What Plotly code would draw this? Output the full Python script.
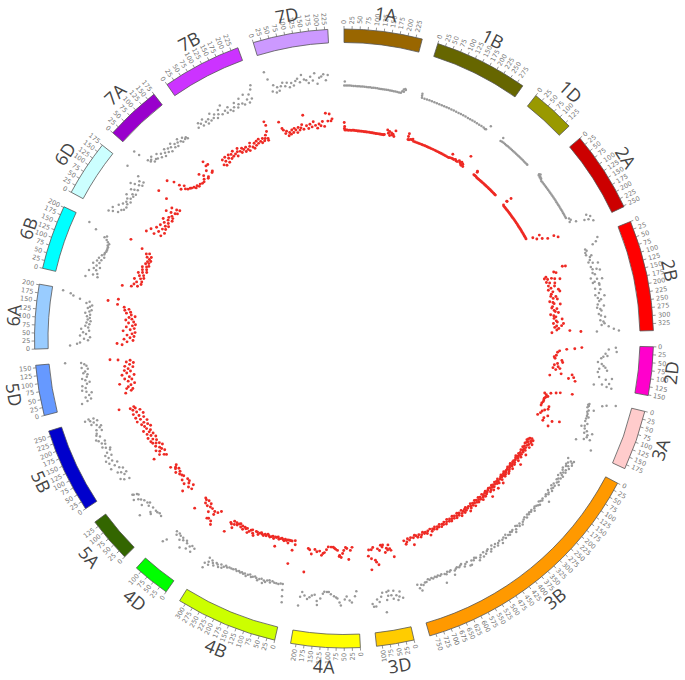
import math
import plotly.graph_objects as go

CHROMS = ["1A","1B","1D","2A","2B","2D","3A","3B","3D","4A","4B","4D","5A","5B","5D","6A","6B","6D","7A","7B","7D"]
LENGTHS = [245,295,140,253,347,152,188,770,118,217,320,118,142,267,158,202,202,175,175,248,235]
COLORS = ["#996600","#666600","#999900","#cc0000","#ff0000","#ff00cc","#ffcccc","#ff9900","#ffcc00","#ffff00",
          "#ccff00","#00ff00","#336600","#0000cc","#6699ff","#99ccff","#00ffff","#ccffff","#9900cc","#cc33ff","#cc99ff"]

# (position in Mb, track value)
G_1A=[(3,5),(1,1),(8,1),(15,1),(22,1),(29,.8),(36,.8),(43,.8),(50,.6),(57,.6),(64,.6),(71,.6),(78,.5),(85,.5),(92,.5),(99,.5),(106,.4),(113,.4),(120,.4),(127,.4),(134,.3),(141,.3),(148,.3),(155,.3),(162,.3),(169,.3),(176,.3),(183,.3),(190,.3),(197,.3),(204,.2),(211,.2),(218,.2),(222,2),(226,4),(231,5),(234,4),(228,2)]
R_1A=[(1,9),(3,5),(2,3),(4,1.5),(9,1.5),(15,1.5),(21,1.2),(27,1.5),(33,1.2),(39,1.5),(45,1.5),(51,1.2),(57,1.2),(63,1),(69,1),(75,1),(81,1),(87,1),(93,.8),(99,.8),(105,.8),(111,.8),(117,.8),(123,.6),(129,.6),(135,.6),(141,.6),(147,.5),(153,.5),(159,.5),(165,.5),(171,.5),(177,.5),(183,.5),(187,1),(198,6),(204,3),(212,1),(218,4),(226,3),(235,7),(232,1),(208,5),(222,2)]
G_1B=[(2,5),(3,3),(5,1),(15,1),(25,1),(35,1),(45,1),(55,1),(65,1),(75,1),(85,1),(95,1),(105,1),(115,1),(125,1),(135,1),(145,1),(155,1),(165,1),(175,1),(185,1),(195,1),(205,1),(215,1),(225,1),(235,1),(245,1),(255,1),(265,1),(272,.5),(276,1),(285,6)]
R_1B=[(1,8),(1,5),(3,2),(8,2),(14,3),(20,3),(24,4),(30,2),(38,2),(46,2),(54,2),(62,2),(70,2),(78,2),(86,2),(94,2),(102,2),(110,2),(118,2),(126,2),(134,2),(142,2),(150,2),(158,2),(166,2),(174,2),(182,2),(190,2),(198,2),(206,2),(212,2.5),(216,7),(220,3),(226,3),(232,3),(238,4),(244,3),(250,3),(256,5),(262,4),(268,3),(274,2),(270,5),(278,4),(284,2),(288,15)]
G_1D=[(3,4),(2,0),(8,.5),(15,.5),(22,.5),(29,.5),(36,.5),(43,.5),(50,.5),(57,.5),(64,.5),(71,.5),(78,.5),(85,.5),(92,.5),(99,.5),(106,.5),(113,.5),(120,.5),(127,.5),(134,.5),(138,.5)]
R_1D=[(5,7),(7,6),(2,2),(8,2),(14,2),(20,1.5),(26,1.5),(32,1.5),(38,1.5),(44,1.5),(50,1.5),(56,1.5),(62,1.5),(68,1.5),(74,1.5),(80,1.5),(86,1.5),(92,1.5),(98,1.5),(104,1.5),(110,1.5),(116,1.5),(122,1.5),(128,1.5),(134,1.5),(138,1.5)]
G_2A=[(4,3),(8,4),(7,2),(13,2.5),(15,1.5),(20,2),(24,1),(30,.5),(37,.5),(44,.5),(51,.5),(58,.5),(65,.5),(72,.5),(79,.5),(86,.5),(93,.5),(100,.5),(107,.5),(114,.5),(121,.5),(128,.5),(135,.5),(142,.5),(149,.5),(156,.5),(163,.5),(170,.5),(177,.5),(184,.5),(191,.5),(198,.5),(205,3),(212,4),(218,2),(226,8),(222,20),(240,20),(236,16),(232,23),(250,24)]
R_2A=[(3,6),(6,11),(5,6),(7,1),(13,.5),(20,.5),(27,.5),(34,.5),(41,.5),(48,.5),(55,.5),(62,.5),(69,.5),(76,.5),(83,.5),(90,.5),(97,.5),(104,.5),(111,.5),(118,.5),(125,.5),(132,.5),(139,.5),(146,.5),(153,.5),(160,.5),(167,.5),(174,.5),(181,.5),(188,.5),(195,.5),(205,7),(208,14),(218,10),(227,15),(237,20),(238,26.7),(250,30)]
G_2B=[(6,21),(18,18),(24,14),(39,6),(33,5),(45,4),(54,4),(60,9),(65,7),(75,6),(83,4),(93,13),(88,8),(101,5),(111,6),(113,10),(119,13),(125,5),(131,7),(143,2),(149,8),(152,13),(158,5),(161,3),(167,9),(173,9),(184,4),(190,9),(202,7),(208,3),(220,5),(226,8),(214,12),(232,6),(244,4),(250,10),(256,3),(262,6),(268,7),(280,4),(286,6),(292,10),(303,5),(309,8),(315,9),(321,6),(327,13),(337,18),(344,23),(345,1)]
R_2B=[(65,23),(68,26),(77,13),(83,15),(89,4),(95,2),(101,5),(101,9),(107,12),(113,17),(113,3),(119,6),(125,11),(131,4),(137,10),(143,6),(149,3),(155,13),(161,7),(164,14),(170,5),(179,4),(184,9),(190,6),(196,10),(202,2),(208,5),(214,6),(220,12),(226,4),(232,3),(238,8),(244,5),(250,6),(256,9),(262,1),(268,4),(274,6),(280,4),(286,12),(292,6),(298,7),(303,3),(306,13),(315,6),(315,11),(321,4),(327,8),(333,6),(345,1),(338,19),(343,30)]
G_2D=[(7,20),(14,13),(22,21),(38,12),(42,8),(30,10),(48,6),(63,3),(69,7),(81,11),(87,5),(75,9),(91,13),(100,4),(118,6),(118,19),(124,13),(137,17),(143,10),(149,2),(149,15),(152,20)]
R_2D=[(11,31),(17,24),(21,16),(29,9),(36,7),(50,6),(57,4),(64,5),(71,12),(86,8),(79,13),(93,5),(107,4),(107,11),(100,9),(129,13),(114,7),(143,2),(126,24),(143,21),(150,28),(136,26)]
G_3A=[(5,28),(12,19),(18,15),(22,2),(26,1),(30,2),(36,1),(42,8),(46,3),(52,2),(60,3),(68,3),(78,3),(72,5),(88,3),(96,6),(105,4),(110,1),(125,14),(135,10),(130,6),(148,14),(152,8),(165,1),(180,19),(142,10),(122,8),(115,5)]
R_3A=[(2,28),(8,16),(13,12),(20,7),(26,1),(32,3),(38,5),(44,3),(50,2),(58,2),(66,2),(74,1),(84,1),(80,9),(92,9),(100,6),(108,4),(118,3),(120,11),(126,24),(130,1),(134,8),(136,17),(160,15),(146,8)]
G_3B=[(3,2),(6,9),(10,6),(14,8),(18,4),(22,9),(26,3),(30,6),(34,4),(38,8),(44,2),(48,6),(52,3),(56,7),(60,5),(66,3),(70,5),(74,7),(78,2),(84,6),(88,4),(94,3),(98,6),(104,5),(108,8),(114,3),(118,5),(124,2),(128,5),(134,4),(140,6),(146,2),(152,4),(158,5),(164,3),(170,4),(178,10),(184,3),(190,4),(196,3),(202,2),(208,5),(214,4),(220,3),(226,2),(232,3),(238,5),(244,2),(250,3),(256,2),(262,3),(268,2),(276,4),(282,2),(290,3),(298,4),(306,6),(312,3),(318,5),(324,3),(330,2),(336,5),(342,7),(348,3),(354,4),(360,3),(366,5),(372,4),(380,2),(386,5),(392,3),(400,4),(406,7),(412,3),(420,4),(426,6),(432,3),(440,5),(446,2),(454,5),(460,7),(466,3),(472,4),(480,6),(486,3),(492,7),(500,4),(506,6),(512,8),(520,4),(526,3),(532,5),(540,4),(546,8),(552,8),(558,3),(566,4),(572,6),(580,2),(586,3),(592,4),(600,3),(606,4),(612,5),(618,9),(626,3),(632,4),(640,3),(646,5),(652,4),(657,13),(664,3),(670,4),(678,3),(684,4),(690,3),(698,4),(704,3),(712,4),(718,3),(726,5),(732,5),(740,7),(748,6),(750,12),(756,9),(762,5)]
R_3B=[(3,6),(6,4),(9,8),(12,3),(15,6),(18,2),(21,7),(24,4),(27,9),(30,3),(33,6),(36,2),(40,5),(44,8),(48,3),(52,5),(56,2),(60,4),(64,6),(68,4),(72,2),(76,5),(80,9),(84,3),(88,5),(92,2),(96,4),(100,6),(104,3),(108,1),(112,4),(116,2),(120,6),(124,3),(128,10),(132,2),(136,4),(140,2),(144,5),(148,3),(152,1),(156,4),(160,2),(164,6),(168,3),(172,1),(176,4),(180,2),(184,5),(188,2),(192,6),(196,3),(200,1),(204,4),(208,2),(212,5),(216,3),(220,1),(224,3),(228,2),(232,5),(236,3),(240,8),(244,1),(248,3),(252,5),(256,2),(260,4),(264,1),(268,3),(272,8),(276,2),(280,4),(284,1),(288,3),(292,6),(296,2),(300,4),(304,1),(308,5),(312,2),(316,10),(320,3),(324,1),(328,4),(332,2),(338,5),(342,3),(346,1),(350,4),(356,6),(360,2),(364,4),(368,1),(372,3),(378,5),(382,2),(386,4),(390,1),(396,3),(400,6),(404,2),(408,4),(414,1),(418,3),(422,5),(428,2),(432,7),(436,3),(442,1),(446,4),(450,2),(456,5),(460,3),(466,1),(470,4),(476,6),(480,2),(486,4),(490,1),(496,3),(500,5),(506,2),(512,4),(516,1),(522,3),(528,5),(532,2),(538,4),(544,1),(550,3),(556,5),(562,2),(568,4),(574,3),(580,5),(586,2),(592,4),(598,3),(604,5),(610,2),(616,4),(622,3),(628,5),(634,2),(640,8),(646,3),(652,5),(658,3),(664,4),(670,2),(678,4),(684,6),(690,3),(698,5),(704,3),(710,2),(718,4),(724,11),(730,3),(738,5),(745,3),(752,6),(758,8),(764,4)]
G_3D=[(4,14),(12,7),(16,12),(22,15),(26,10),(34,5),(38,13),(44,9),(52,4),(56,9),(62,13),(60,5),(70,25),(76,5),(82,9),(90,14),(98,11),(104,18),(112,18),(116,15)]
R_3D=[(2,17),(10,10),(14,8),(18,4),(24,9),(28,7),(36,11),(42,3),(46,5),(52,3),(60,8),(68,6),(72,22),(80,19),(84,17),(88,4),(96,6),(100,15),(104,26),(108,6),(112,12)]
G_4A=[(4,1),(10,6),(22,12),(30,10),(41,6),(48,9),(62,15),(67,12),(75,8),(80,7),(88,6),(100,4),(108,2),(115,2),(125,2),(130,4),(138,9),(148,16),(150,12),(160,6),(170,7),(178,9),(186,11),(197,8),(207,5),(212,10),(214,19)]
R_4A=[(14,2),(22,5),(30,14),(38,3),(44,2),(52,5),(57,8),(63,12),(70,10),(72,11),(80,5),(88,4),(94,3),(100,2),(110,2),(123,2),(130,5),(138,8),(144,9),(150,11),(160,7),(172,8),(182,6),(195,11),(205,7),(212,6),(214,30)]
G_4B=[(6,19),(10,13),(14,7),(18,1),(26,1),(34,2),(42,2),(50,2),(58,1),(66,3),(70,1),(78,2),(84,4),(90,3),(94,6),(100,2),(108,3),(114,5),(120,3),(126,2),(134,3),(140,4),(146,2),(154,3),(160,5),(166,3),(172,4),(178,3),(184,4),(190,3),(198,4),(204,3),(212,4),(220,4),(228,4),(236,5),(242,4),(248,6),(254,8),(260,5),(266,9),(272,7),(278,6),(284,10),(290,8),(296,6),(302,12),(306,9),(310,5),(314,17),(316,12)]
R_4B=[(6,5),(10,1),(14,11),(18,25),(24,2),(30,2),(36,2),(40,5),(44,2),(50,3),(56,2),(60,4),(66,3),(72,2),(78,3),(84,4),(90,2),(96,3),(92,12),(102,3),(108,5),(114,3),(120,4),(126,5),(132,4),(138,3),(144,5),(150,4),(156,6),(162,5),(168,4),(174,5),(180,7),(186,5),(192,5),(198,10),(204,8),(210,5),(216,6),(222,8),(228,10),(234,6),(240,7),(246,6),(252,9),(258,6),(264,8),(270,5),(276,6),(282,8),(288,6),(294,9),(296,13),(300,6),(306,10),(312,9),(316,20)]
G_4D=[(6,6),(12,11),(18,5),(25,7),(32,11),(40,6),(46,4),(52,14),(58,6),(64,4),(70,8),(76,4),(84,3),(90,6),(98,3),(106,16),(112,20)]
R_4D=[(4,5),(10,22),(14,8),(18,19),(24,12),(28,9),(32,18),(38,19),(44,8),(50,13),(56,8),(62,5),(70,9),(78,4),(84,8),(90,5),(98,4),(105,19)]
G_5A=[(12,3),(23,2),(32,3),(40,3),(44,9),(50,8),(56,3),(67,18),(72,5),(78,2),(84,4),(90,10),(98,5),(108,7),(115,9),(123,13),(128,6),(133,7),(138,10),(141,11)]
R_5A=[(4,7),(12,3),(20,8),(25,15),(32,5),(38,3),(44,9),(50,3),(62,8),(72,4),(80,5),(90,6),(98,4),(106,8),(112,3),(120,6),(125,5),(132,3),(138,9)]
G_5B=[(6,4),(12,9),(20,12),(28,6),(34,3),(40,8),(46,11),(52,4),(60,7),(68,15),(74,10),(82,6),(88,14),(94,10),(100,16),(108,12),(114,8),(120,14),(128,11),(134,7),(140,6),(146,10),(152,13),(160,9),(166,12),(172,8),(178,14),(184,16),(192,11),(200,14),(206,13),(212,7),(218,12),(224,8),(230,6),(236,10),(242,15),(248,12),(252,8),(256,15),(260,20),(262,11),(264,16)]
R_5B=[(4,5),(10,7),(16,18),(20,11),(26,4),(32,9),(38,6),(42,12),(48,7),(54,3),(60,10),(66,5),(72,8),(78,11),(84,6),(88,12),(94,9),(100,5),(106,13),(112,9),(118,6),(124,12),(130,9),(136,7),(142,14),(148,10),(154,5),(160,11),(166,7),(172,13),(178,10),(184,6),(190,16),(196,12),(202,8),(208,16),(214,12),(220,7),(226,17),(232,13),(238,9),(244,16),(250,13),(254,18),(258,14),(264,29)]
G_5D=[(6,18),(12,12),(18,8),(26,13),(32,9),(40,6),(46,11),(52,15),(60,11),(68,14),(74,9),(80,6),(88,10),(94,13),(100,8),(108,7),(114,11),(120,9),(128,6),(134,12),(140,7),(146,9),(152,12),(156,28)]
R_5D=[(6,18),(12,12),(18,10),(24,16),(30,14),(36,11),(42,7),(48,22),(54,13),(60,9),(66,16),(72,11),(78,6),(84,18),(90,13),(96,9),(102,15),(108,11),(114,6),(120,14),(126,9),(132,5),(138,12),(144,8),(150,20),(154,28)]
G_6A=[(8,22),(14,15),(18,12),(26,4),(32,8),(38,2),(44,12),(50,6),(56,9),(62,3),(68,11),(74,4),(80,7),(86,3),(92,6),(98,2),(104,5),(110,3),(116,6),(122,3),(128,8),(134,4),(140,2),(146,6),(152,4),(158,2),(164,8),(170,5),(176,15),(184,22),(190,25),(196,33)]
R_6A=[(6,15),(12,20),(18,10),(24,4),(30,13),(36,7),(42,3),(48,10),(54,5),(60,2),(66,14),(72,7),(78,3),(84,11),(90,5),(96,2),(102,9),(108,4),(114,12),(120,6),(126,9),(132,3),(138,7),(144,12),(150,8),(156,14),(162,10),(168,15),(176,22),(186,32),(198,22)]
G_6B=[(8,14),(14,2),(20,7),(26,3),(32,12),(38,5),(44,8),(50,2),(56,6),(62,10),(68,4),(74,7),(80,3),(86,6),(92,1),(98,4),(104,2),(110,2),(116,1),(122,1),(128,1),(134,1),(140,2),(146,1),(152,3),(158,5),(164,8),(170,6),(178,19),(192,28)]
R_6B=[(6,21),(12,12),(18,6),(24,10),(30,3),(36,8),(42,3),(48,11),(54,5),(60,2),(66,7),(72,3),(78,9),(84,5),(90,1),(96,6),(102,2),(108,7),(114,3),(120,1),(126,5),(132,2),(138,4),(144,1),(150,3),(156,6),(162,2),(168,8),(174,5),(182,14),(198,28)]
G_6D=[(6,16),(12,12),(18,7),(24,14),(30,5),(36,3),(42,10),(48,2),(54,7),(60,3),(66,5),(72,1),(78,6),(84,3),(90,9),(96,2),(102,4),(108,1),(114,8),(120,5),(126,2),(132,12),(138,8),(144,4),(150,1),(156,6),(162,2),(168,10),(174,25)]
R_6D=[(6,18),(12,10),(18,3),(24,15),(30,7),(36,1),(42,11),(48,5),(54,2),(60,9),(66,4),(72,1),(78,7),(84,3),(90,10),(96,5),(102,1),(108,6),(114,2),(120,4),(126,12),(132,7),(138,3),(144,1),(150,9),(156,4),(162,1),(168,19),(174,30)]
G_7A=[(1,29),(3,23),(10,13),(14,10),(20,11),(24,7),(28,13),(34,8),(40,7),(48,11),(54,5),(60,8),(68,3),(74,6),(80,9),(86,4),(92,7),(98,2),(104,6),(110,9),(116,3),(122,6),(128,2),(134,5),(140,8),(146,4),(152,2),(158,6),(164,3),(170,4),(174,2)]
R_7A=[(1,30),(16,24),(22,18),(14,14),(34,14),(28,11),(35,9),(45,8),(50,7),(60,6),(65,4),(75,5),(80,3),(90,4),(100,3),(110,3),(118,5),(115,12),(127,8),(135,3),(150,10),(140,4),(162,14),(165,5),(163,19),(172,14),(170,6)]
G_7B=[(5,4),(12,8),(20,6),(26,3),(32,9),(40,5),(46,2),(52,6),(60,3),(66,10),(72,4),(80,7),(86,2),(94,5),(100,9),(108,3),(114,12),(122,5),(128,2),(136,7),(142,3),(150,1),(158,4),(164,8),(172,2),(178,5),(186,10),(192,4),(200,2),(206,12),(214,6),(220,2),(226,10),(232,5),(238,14),(244,18)]
R_7B=[(4,4),(10,9),(14,2),(20,6),(26,10),(32,3),(38,7),(44,10),(50,5),(56,9),(62,6),(68,11),(74,7),(80,4),(86,8),(92,11),(98,7),(104,5),(110,9),(116,7),(122,4),(128,8),(134,5),(140,3),(146,7),(152,10),(158,5),(164,3),(170,8),(176,5),(182,9),(188,6),(194,10),(200,7),(206,5),(212,9),(218,6),(224,8),(230,11),(236,7),(240,14),(244,24),(246,20),(235,5)]
G_7D=[(5,26),(10,18),(16,5),(24,11),(30,3),(36,8),(42,4),(50,8),(58,11),(66,7),(74,10),(82,5),(90,9),(98,6),(106,10),(114,12),(122,8),(130,15),(138,10),(146,9),(154,6),(162,12),(170,8),(178,15),(186,4),(194,10),(202,11),(210,13),(218,7),(226,12)]
R_7D=[(4,19),(10,12),(14,10),(20,6),(26,8),(32,3),(38,6),(44,4),(50,8),(56,5),(62,9),(68,7),(74,4),(80,9),(86,6),(92,8),(98,11),(104,6),(110,20),(118,9),(126,6),(134,10),(142,7),(150,12),(158,8),(166,5),(174,9),(182,7),(190,11),(198,6),(206,19),(214,11),(222,18),(228,11),(233,13)]

GRAY=[G_1A,G_1B,G_1D,G_2A,G_2B,G_2D,G_3A,G_3B,G_3D,G_4A,G_4B,G_4D,G_5A,G_5B,G_5D,G_6A,G_6B,G_6D,G_7A,G_7B,G_7D]
RED=[R_1A,R_1B,R_1D,R_2A,R_2B,R_2D,R_3A,R_3B,R_3D,R_4A,R_4B,R_4D,R_5A,R_5B,R_5D,R_6A,R_6B,R_6D,R_7A,R_7B,R_7D]

W,H=685,680
CX,CY=344,338.5
RAD_MAX=338.5
GAP=3.0
BAND_IN,BAND_OUT=296,309.5
GRAY_BASE,RED_BASE=252,207
FLIP_FROM=CHROMS.index("3D")
NAME_R=335
NAME_SIZE=18
NAME_W,NAME_H=24,25

scale=(360-GAP*len(CHROMS))/sum(LENGTHS)
starts=[]
a=0.0
for L in LENGTHS:
    starts.append(a)
    a+=L*scale+GAP

def ang(i,pos):
    return starts[i]+pos*scale
def paper(r,th):
    t=math.radians(th)
    return (CX+r*math.sin(t))/W, 1-(CY-r*math.cos(t))/H
def name_radius(th,rot):
    # largest radius (up to NAME_R) at which the rotated label box stays on the page
    c,s=abs(math.cos(math.radians(rot))),abs(math.sin(math.radians(rot)))
    hx=c*NAME_W/2+s*NAME_H/2
    hy=s*NAME_W/2+c*NAME_H/2
    r=NAME_R
    while r>318:
        x,y=paper(r,th)
        px,py=x*W,(1-y)*H
        if px-hx>=0 and px+hx<=W and py-hy>=0 and py+hy<=H:
            break
        r-=0.5
    return r

fig=go.Figure()
fig.add_trace(go.Barpolar(
    r=[BAND_OUT-BAND_IN]*len(CHROMS), base=[BAND_IN]*len(CHROMS),
    theta=[ang(i,L/2) for i,L in enumerate(LENGTHS)],
    width=[L*scale for L in LENGTHS],
    marker=dict(color=COLORS,line=dict(color="#555555",width=0.8)),hoverinfo="skip",showlegend=False))

tick_t,tick_r=[],[]
anns=[]
for i,(name,L) in enumerate(zip(CHROMS,LENGTHS)):
    for m in range(0,L+1,25):
        th=ang(i,m)
        tick_t+=[th,th,None]; tick_r+=[BAND_OUT,BAND_OUT+3,None]
        s=str(m)
        rr=BAND_OUT+5+len(s)*2.0
        x,y=paper(rr,th)
        rot=th-270 if i>=FLIP_FROM else th-90
        anns.append(dict(x=x,y=y,xref="paper",yref="paper",text=s,showarrow=False,textangle=rot,
                         xanchor="center",yanchor="middle",font=dict(size=6.5,color="#777777",family="DejaVu Sans")))
    th=ang(i,L/2)
    rot=th if th<90 or th>270 else th-180
    x,y=paper(name_radius(th,rot),th)
    anns.append(dict(x=x,y=y,xref="paper",yref="paper",text=name,showarrow=False,textangle=rot,
                     xanchor="center",yanchor="middle",font=dict(size=NAME_SIZE,color="#444444",family="Open Sans")))
fig.add_trace(go.Scatterpolar(r=tick_r,theta=tick_t,mode="lines",line=dict(color="#666666",width=0.7),hoverinfo="skip",showlegend=False))

for series,base,color,size in ((GRAY,GRAY_BASE,"#999999",2.5),(RED,RED_BASE,"#ee2a24",2.9)):
    th,rr=[],[]
    for i,pts in enumerate(series):
        for p,v in pts:
            th.append(ang(i,p)); rr.append(base+v)
    fig.add_trace(go.Scatterpolar(r=rr,theta=th,mode="markers",marker=dict(color=color,size=size,line=dict(width=0)),hoverinfo="skip",showlegend=False))

fig.update_layout(
    width=W,height=H,margin=dict(l=0,r=0,t=0,b=0),paper_bgcolor="white",showlegend=False,annotations=anns,
    polar=dict(domain=dict(x=[3/W,1],y=[3/H,1]),bgcolor="white",
               angularaxis=dict(visible=False,rotation=90,direction="clockwise",thetaunit="degrees"),
               radialaxis=dict(visible=False,range=[0,RAD_MAX])))
fig.write_html("out.html",config={"displayModeBar":False},post_script="document.body.style.margin='0';")
